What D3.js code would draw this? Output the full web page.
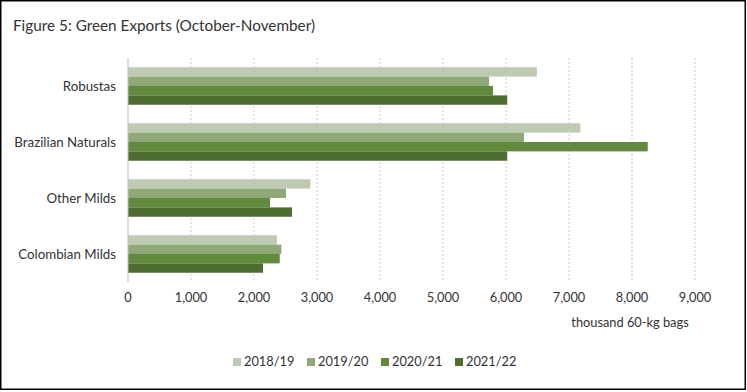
<!DOCTYPE html>
<html><head><meta charset="utf-8">
<script src="https://cdn.jsdelivr.net/npm/d3@7"></script>
<style>
html,body{margin:0;padding:0;background:#fff;}
svg{display:block;font-family:Lato,"Open Sans",sans-serif;}
</style></head>
<body>
<script>
const categories = ["Robustas", "Brazilian Naturals", "Other Milds", "Colombian Milds"];
const seriesNames = ["2018/19", "2019/20", "2020/21", "2021/22"];
const v2018 = [6490, 7180, 2895, 2365];
const v2019 = [5730, 6285, 2508, 2434];
const v2020 = [5795, 8250, 2254, 2408];
const v2021 = [6020, 6020, 2603, 2143];
const tickValues = [0,1000,2000,3000,4000,5000,6000,7000,8000,9000];
const colors = ["#bfcab3", "#8ea878", "#628a3d", "#4e6e31"];
const seriesValues = [v2018, v2019, v2020, v2021];

const W = 747, H = 392;
const svg = d3.select("body").append("svg").attr("width", W).attr("height", H);
svg.append("rect").attr("x",0.75).attr("y",0.75).attr("width",744.5).attr("height",388.5)
  .attr("fill","#fff").attr("stroke","#000").attr("stroke-width",1.5);

svg.append("text").attr("x",13).attr("y",31).attr("font-size",15.3).attr("fill","#333")
  .text("Figure 5: Green Exports (October-November)");

const x = d3.scaleLinear().domain([0,9000]).range([128,695]);
const y = d3.scaleBand().domain(categories).range([58,282]).paddingInner(0.33).paddingOuter(0.165);
const ys = d3.scaleBand().domain(seriesNames).range([0, y.bandwidth()]);

// gridlines
svg.append("g").selectAll("line").data(tickValues.slice(1)).join("line")
  .attr("x1", d=>x(d)).attr("x2", d=>x(d)).attr("y1",58).attr("y2",282)
  .attr("stroke","#c8c8c8").attr("stroke-width",1).attr("stroke-dasharray","2,2");

// bars
categories.forEach((c,i)=>{
  seriesNames.forEach((s,j)=>{
    svg.append("rect").attr("x", x(0)).attr("y", y(c)+ys(s))
      .attr("width", x(seriesValues[j][i])-x(0)).attr("height", ys.bandwidth())
      .attr("fill", colors[j]);
  });
});

// y axis line
svg.append("line").attr("x1",x(0)).attr("x2",x(0)).attr("y1",58).attr("y2",282)
  .attr("stroke","#bfbfbf").attr("stroke-width",1);

// category labels
svg.append("g").selectAll("text").data(categories).join("text")
  .attr("x",116).attr("y", d=>y(d)+y.bandwidth()/2).attr("dy","0.35em")
  .attr("text-anchor","end").attr("font-size",13.3).attr("fill","#333").text(d=>d);

// x tick labels
const fmt = d3.format(",");
svg.append("g").selectAll("text").data(tickValues).join("text")
  .attr("x", d=>x(d)).attr("y",302).attr("text-anchor","middle")
  .attr("font-size",12.8).attr("fill","#333").text(d=>fmt(d));

svg.append("text").attr("x",630).attr("y",327).attr("text-anchor","middle")
  .attr("font-size",12.8).attr("fill","#333").text("thousand 60-kg bags");

// legend
const legX = [233, 307, 381, 455];
const lg = svg.append("g").selectAll("g").data(seriesNames).join("g")
  .attr("transform",(d,i)=>`translate(${legX[i]},362)`);
lg.append("rect").attr("x",0).attr("y",-4).attr("width",8).attr("height",8).attr("fill",(d,i)=>colors[i]);
lg.append("text").attr("x",11).attr("y",0).attr("dy","0.35em").attr("font-size",12.8).attr("fill","#333").text(d=>d);
</script>
</body></html>
